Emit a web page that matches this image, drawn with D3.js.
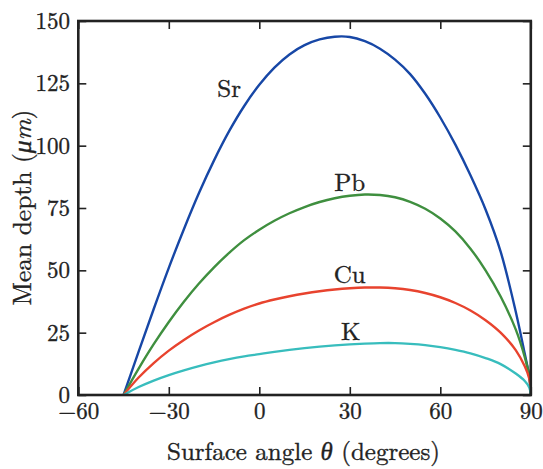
<!DOCTYPE html>
<html>
<head>
<meta charset="utf-8">
<script src="https://cdn.jsdelivr.net/npm/d3@7"></script>
<style>
  html, body { margin: 0; padding: 0; background: #fff; }
  svg { display: block; }
</style>
</head>
<body>
<svg id="chart" width="543" height="469"></svg>
<script>
// Surface angle (degrees) at which each depth curve is sampled
const angles = [-45, -40, -35, -30, -25, -20, -15, -10, -5, 0, 5, 10, 15, 20, 25, 30,
                35, 40, 45, 50, 55, 60, 65, 70, 75, 80, 85, 88, 89.5, 90];

// Mean depth (µm) per element
const srDepth = [0, 17.4, 34.5, 51.0, 66.5, 81.0, 94.1, 105.8, 115.9, 124.4, 131.3, 136.6, 140.3, 142.6, 143.7, 143.6,
                 141.9, 138.9, 134.5, 128.7, 120.8, 111.3, 100.4, 88.1, 74.4, 57.5, 33.5, 16.5, 7.5, 0];
const pbDepth = [0, 10.6, 20.4, 29.3, 37.4, 44.7, 51.2, 57.0, 62.1, 66.3, 69.9, 72.9, 75.4, 77.4, 78.9, 79.9,
                 80.4, 80.2, 79.3, 77.5, 74.7, 70.8, 65.6, 58.7, 50.0, 39.5, 26.3, 15.2, 7.5, 0];
const cuDepth = [0, 7.0, 12.8, 17.8, 22.1, 25.9, 29.2, 32.1, 34.6, 36.7, 38.3, 39.6, 40.7, 41.6, 42.3, 42.8,
                 43.1, 43.1, 42.8, 42.1, 40.9, 39.2, 36.9, 33.9, 30.0, 25.0, 18.0, 11.5, 6.5, 0];
const kDepth  = [0, 3.2, 5.8, 8.0, 9.9, 11.6, 13.1, 14.4, 15.5, 16.4, 17.3, 18.1, 18.8, 19.4, 19.9, 20.3,
                 20.6, 20.8, 20.8, 20.5, 20.0, 19.2, 18.1, 16.7, 14.8, 12.4, 8.6, 5.6, 3.0, 0];

const seriesNames  = ["Sr", "Pb", "Cu", "K"];
const seriesColors = ["#1747a6", "#3f8f3f", "#e8432e", "#38bdbd"];

// Where each element's name sits (angle, depth)
const labelAngle = [-10, 30, 30, 30.3];
const labelDepth = [119.5, 81.8, 44.9, 22];

const xTicks = [-60, -30, 0, 30, 60, 90];
const yTicks = [0, 25, 50, 75, 100, 125, 150];

const FONT = "'Latin Modern Roman', 'Liberation Serif', serif";
const INK = "#222";
const svg = d3.select("#chart");

const x = d3.scaleLinear().domain([-60, 90]).range([78.3, 530.8]);
const y = d3.scaleLinear().domain([0, 150]).range([395, 21]);

const depths = [srDepth, pbDepth, cuDepth, kDepth];

const line = d3.line()
  .x(d => x(d[0]))
  .y(d => y(d[1]))
  .curve(d3.curveCatmullRom.alpha(0.5));

// Clip so curves stay inside the frame
svg.append("defs").append("clipPath").attr("id", "plotClip")
  .append("rect")
  .attr("x", x(-60)).attr("y", y(150))
  .attr("width", x(90) - x(-60)).attr("height", y(0) - y(150));

svg.append("g").attr("clip-path", "url(#plotClip)")
  .selectAll("path.curve")
  .data(depths)
  .join("path")
  .attr("class", "curve")
  .attr("fill", "none")
  .attr("stroke", (d, i) => seriesColors[i])
  .attr("stroke-width", 2.4)
  .attr("stroke-linejoin", "round")
  .attr("d", d => line(angles.map((a, j) => [a, d[j]])));

// Slightly heavier glyphs for the thin serif face
function ink(sel) {
  return sel.attr("fill", INK).attr("stroke", INK).attr("stroke-width", 0.35)
    .style("font-family", FONT);
}

// Axes: ticks point inward on all four sides
const fmt = d3.format("d");

const xAxisBottom = d3.axisBottom(x).tickValues(xTicks).tickSizeInner(-8).tickSizeOuter(0)
  .tickPadding(7.5).tickFormat(d => fmt(d));
const xAxisTop = d3.axisTop(x).tickValues(xTicks).tickSizeInner(-8).tickSizeOuter(0).tickFormat("");
const yAxisLeft = d3.axisLeft(y).tickValues(yTicks).tickSizeInner(-8).tickSizeOuter(0)
  .tickPadding(8.3).tickFormat(d => fmt(d));
const yAxisRight = d3.axisRight(y).tickValues(yTicks).tickSizeInner(-8).tickSizeOuter(0).tickFormat("");

function styleAxis(g) {
  g.select(".domain").remove();
  g.selectAll(".tick line").attr("stroke", INK).attr("stroke-width", 1.6);
  g.selectAll(".tick text").call(ink).style("font-size", "23px");
}

svg.append("g").attr("transform", `translate(0,${y(0)})`).call(xAxisBottom).call(styleAxis);
svg.append("g").attr("transform", `translate(0,${y(150)})`).call(xAxisTop).call(styleAxis);
svg.append("g").attr("transform", `translate(${x(-60)},0)`).call(yAxisLeft).call(styleAxis);
svg.append("g").attr("transform", `translate(${x(90)},0)`).call(yAxisRight).call(styleAxis);

// Frame
svg.append("rect")
  .attr("x", x(-60)).attr("y", y(150))
  .attr("width", x(90) - x(-60)).attr("height", y(0) - y(150))
  .attr("fill", "none").attr("stroke", INK).attr("stroke-width", 2.6);

// Element names
svg.selectAll("text.series-label")
  .data(seriesNames)
  .join("text")
  .attr("class", "series-label")
  .attr("x", (d, i) => x(labelAngle[i]))
  .attr("y", (d, i) => y(labelDepth[i]))
  .attr("text-anchor", "middle")
  .call(ink)
  .style("font-size", "25px")
  .text(d => d);

// Axis titles
const xTitle = svg.append("text")
  .attr("x", 303.5)
  .attr("y", 460)
  .attr("text-anchor", "middle")
  .call(ink)
  .style("font-size", "25px");
xTitle.append("tspan").text("Surface angle ");
xTitle.append("tspan").style("font-style", "italic").text("θ");
xTitle.append("tspan").text(" (degrees)");

const yTitle = svg.append("text")
  .attr("transform", "translate(30.7,207.5) rotate(-90)")
  .attr("text-anchor", "middle")
  .call(ink)
  .style("font-size", "25.5px");
yTitle.append("tspan").text("Mean depth (");
yTitle.append("tspan").style("font-style", "italic").text("μm");
yTitle.append("tspan").text(")");
</script>
</body>
</html>
